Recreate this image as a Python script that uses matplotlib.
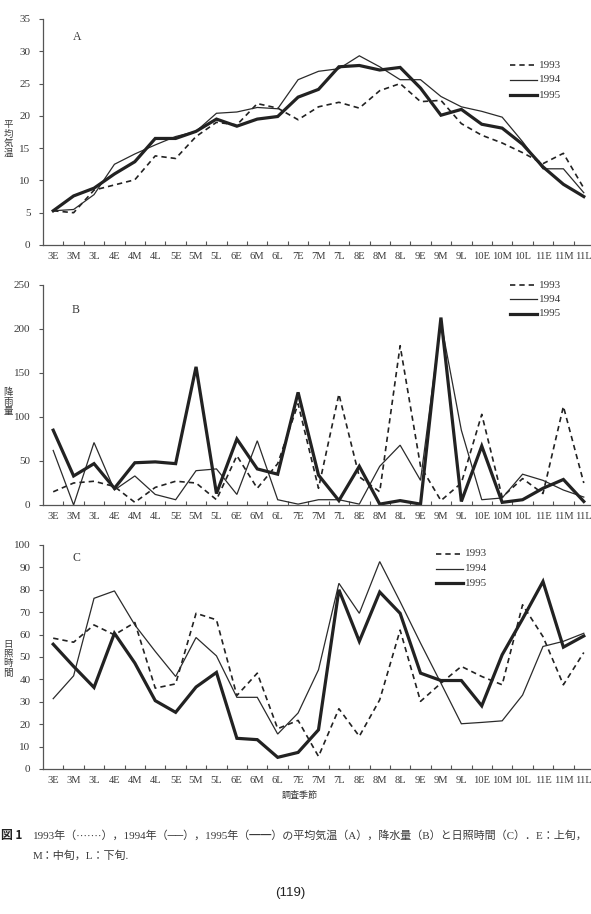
import matplotlib
matplotlib.use("Agg")
import matplotlib.pyplot as plt
import numpy as np

seasons = ["3E", "3M", "3L", "4E", "4M", "4L", "5E", "5M", "5L", "6E", "6M", "6L",
           "7E", "7M", "7L", "8E", "8M", "8L", "9E", "9M", "9L", "10E", "10M", "10L",
           "11E", "11M", "11L"]
years = ["1993", "1994", "1995"]

# A: mean temperature
temp_1993 = [5.3, 5.0, 8.5, 9.3, 10.1, 13.8, 13.4, 16.8, 19.0, 18.6, 21.9, 21.2,
             19.4, 21.4, 22.1, 21.2, 23.9, 25.0, 22.2, 22.4, 18.8, 17.0, 15.8, 14.3,
             12.6, 14.2, 8.8]
temp_1994 = [5.3, 5.5, 7.8, 12.5, 14.1, 15.5, 16.8, 17.6, 20.4, 20.6, 21.3, 21.1,
             25.6, 26.9, 27.3, 29.3, 27.6, 25.6, 25.6, 23.0, 21.4, 20.7, 19.8, 16.0,
             11.8, 11.8, 8.1]
temp_1995 = [5.3, 7.6, 8.8, 11.0, 12.9, 16.5, 16.5, 17.6, 19.5, 18.4, 19.5, 19.9,
             22.9, 24.1, 27.6, 27.8, 27.1, 27.5, 24.3, 20.1, 21.0, 18.7, 18.1, 15.6,
             12.1, 9.4, 7.5]

# B: rainfall
rain_1993 = [15, 25, 27, 21, 3, 20, 27, 25, 6, 56, 19, 47,
             115, 19, 126, 32, 15, 181, 44, 5, 25, 103, 9, 30,
             13, 112, 25]
rain_1994 = [62, 0, 71, 17, 33, 12, 6, 39, 41, 12, 73, 6,
             1, 6, 6, 1, 44, 68, 28, 208, 85, 6, 8, 35,
             28, 17, 9]
rain_1995 = [85, 33, 47, 19, 48, 49, 47, 157, 13, 75, 41, 35,
             128, 34, 5, 44, 1, 5, 1, 213, 4, 67, 3, 6,
             19, 29, 4]

# C: sunshine hours
sun_1993 = [58.4, 56.6, 64.3, 59.9, 65.4, 36.1, 38.0, 69.5, 66.6, 32.8, 42.8, 18.0,
            21.7, 5.6, 26.9, 14.6, 30.9, 62.0, 30.2, 38.3, 45.8, 41.3, 37.6, 73.3,
            59.1, 37.6, 52.0]
sun_1994 = [31.4, 41.6, 76.2, 79.5, 64.3, 52.5, 41.3, 58.7, 50.5, 32.0, 32.0, 15.6,
            25.0, 44.3, 82.9, 69.5, 92.6, 74.7, 56.2, 38.3, 20.2, 20.8, 21.5, 33.0,
            54.7, 57.0, 60.6]
sun_1995 = [55.7, 45.8, 36.4, 60.6, 47.3, 30.5, 25.3, 36.6, 43.1, 13.7, 13.1, 5.2,
            7.4, 17.5, 80.0, 57.0, 79.0, 69.5, 42.8, 39.5, 39.5, 28.2, 51.0, 67.0,
            83.7, 54.4, 59.4]

W, H = 591, 914
fig = plt.figure(figsize=(W / 100, H / 100), dpi=100)
fig.patch.set_facecolor("white")

SERIF = ["Liberation Serif", "Noto Sans CJK JP"]
JP = ["Noto Sans CJK JP", "DejaVu Sans"]
TXT = "#3a3a3a"
LINE = "#222222"
AX = "#555555"

styles = [dict(color=LINE, lw=1.2, ls=(0, (3.2, 2.4))),
          dict(color="#2b2b2b", lw=0.9, ls="-"),
          dict(color=LINE, lw=2.3, ls="-")]

def px_axes(left, top, right, bottom):
    return fig.add_axes([left / W, 1 - bottom / H, (right - left) / W, (bottom - top) / H])

panels = [
    dict(box=(43, 19, 594, 245), data=(temp_1993, temp_1994, temp_1995), ymax=35, step=5,
         letter="A", letter_xy=(77, 37), leg=(510, 65, 15),
         ylabel="平均気温", ylab_y=139),
    dict(box=(43, 285, 594, 505), data=(rain_1993, rain_1994, rain_1995), ymax=250, step=50,
         letter="B", letter_xy=(76, 310), leg=(510, 285, 14.5),
         ylabel="降雨量", ylab_y=402),
    dict(box=(43, 545, 594, 769), data=(sun_1993, sun_1994, sun_1995), ymax=100, step=10,
         letter="C", letter_xy=(76, 558), leg=(436, 554, 14.5),
         ylabel="日照時間", ylab_y=659),
]

x = np.arange(len(seasons))
for p in panels:
    ax = px_axes(*p["box"])
    for vals, st in zip(p["data"], styles):
        ax.plot(x, vals, solid_joinstyle="miter", **st)
    ax.set_xlim(-0.5, len(seasons) - 0.5)
    ax.set_ylim(0, p["ymax"])
    for s in ("top", "right"):
        ax.spines[s].set_visible(False)
    for s in ("left", "bottom"):
        ax.spines[s].set_color(AX)
        ax.spines[s].set_linewidth(0.9)
    ax.set_yticks(np.arange(0, p["ymax"] + 0.1, p["step"]))
    ax.set_yticklabels([str(int(v)) for v in np.arange(0, p["ymax"] + 0.1, p["step"])],
                       family=SERIF, fontsize=8, color=TXT)
    ax.tick_params(axis="y", direction="out", length=3, width=0.8, color=AX, pad=6)
    ax.set_xticks(np.arange(0.5, len(seasons) - 0.5, 1.0))
    ax.set_xticklabels([])
    ax.tick_params(axis="x", which="major", direction="in", length=3, width=0.8, color=AX)
    ax.set_xticks(x, minor=True)
    ax.set_xticklabels(seasons, minor=True, family=SERIF, fontsize=7.6, color=TXT)
    ax.tick_params(axis="x", which="minor", length=0, pad=5)

    lx, ly = p["letter_xy"]
    fig.text(lx / W, 1 - ly / H, p["letter"], family=SERIF, fontsize=8.5, color=TXT,
             ha="center", va="center")
    # legend
    gx, gy, gd = p["leg"]
    for i, (yr, st) in enumerate(zip(years, styles)):
        yy = 1 - (gy + i * gd) / H
        fig.add_artist(plt.Line2D([gx / W, (gx + 27) / W], [yy, yy], **st))
        fig.text((gx + 29) / W, yy, yr, family=SERIF, fontsize=8, color=TXT,
                 ha="left", va="center")
    # vertical (stacked) y label
    chars = list(p["ylabel"])
    n = len(chars)
    for k, ch in enumerate(chars):
        cy = p["ylab_y"] + (k - (n - 1) / 2) * 9.5
        fig.text(8 / W, 1 - cy / H, ch, family=JP, fontsize=6.8, color=TXT,
                 ha="center", va="center")

fig.text(300 / W, 1 - 795 / H, "調査季節", family=JP, fontsize=6.5, color=TXT,
         ha="center", va="center")

fig.text(1 / W, 1 - 835 / H, "図 1", family=JP, fontsize=8.5, color="#222222",
         ha="left", va="center", fontweight="bold")
cap1 = ("1993年（·······），1994年（──），1995年（━━）の平均気温（A），"
        "降水量（B）と日照時間（C）．E：上旬，")
fig.text(33 / W, 1 - 835 / H, cap1, family=SERIF, fontsize=7.95, color=TXT,
         ha="left", va="center")
fig.text(33 / W, 1 - 856 / H, "M：中旬，L：下旬.", family=SERIF, fontsize=7.95, color=TXT,
         ha="left", va="center")
fig.text(290 / W, 1 - 893 / H, "(119)", family=["Liberation Sans"], fontsize=9.5,
         color="#222222", ha="center", va="center")

fig.savefig("out.png", dpi=100, facecolor="white")
